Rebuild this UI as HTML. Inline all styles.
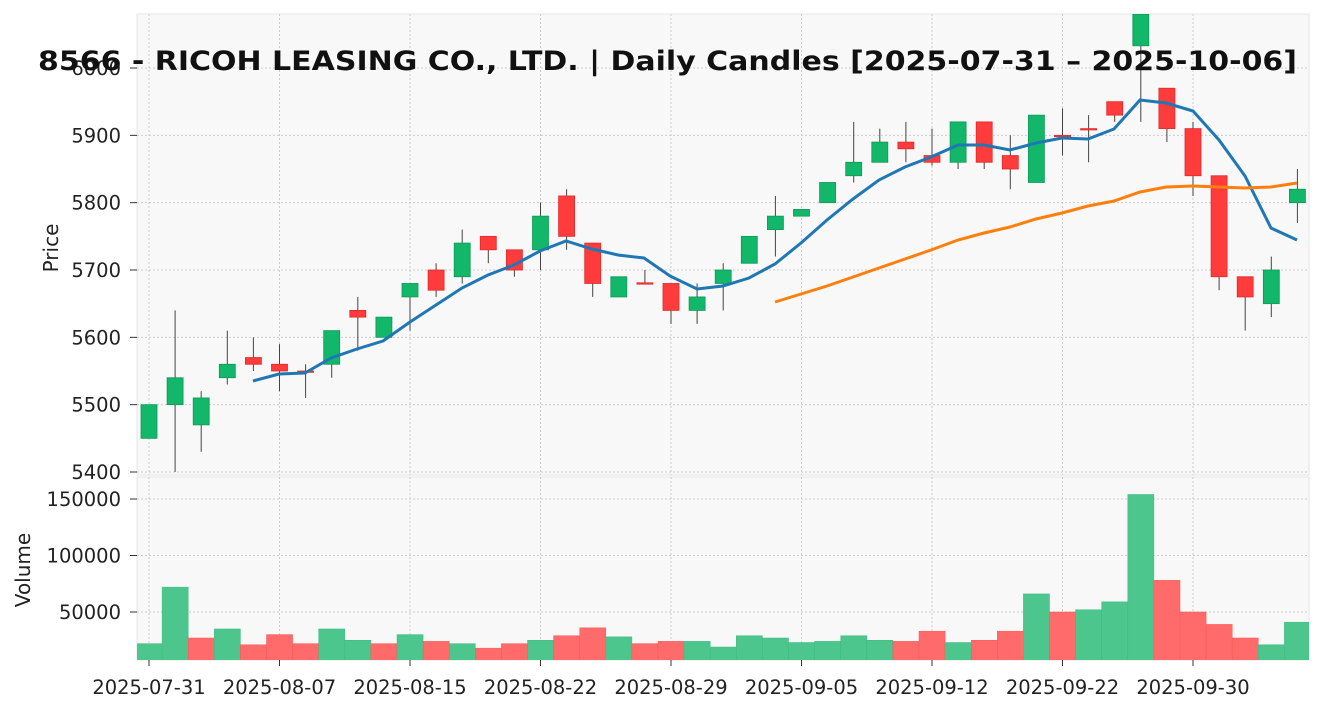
<!DOCTYPE html>
<html><head><meta charset="utf-8"><style>body{margin:0;background:#fff}svg{display:block;font-family:"DejaVu Sans","Liberation Sans",sans-serif}</style></head>
<body>
<svg id="s" width="1324" height="711" xmlns="http://www.w3.org/2000/svg"></svg>
<script>
const s=document.getElementById('s');let h='';
const X=i=>149+26.1*i, Y=p=>472-(p-5400)*0.6733, V=v=>668.5-v/50000*56.5;
h+='<rect x="137" y="14" width="1172" height="461" fill="#f8f8f8" stroke="#e6e6e6"/>';
h+='<rect x="137" y="477" width="1172" height="183" fill="#f8f8f8" stroke="#e6e6e6"/>';
const ticks=[[0,'2025-07-31'],[5,'2025-08-07'],[10,'2025-08-15'],[15,'2025-08-22'],[20,'2025-08-29'],[25,'2025-09-05'],[30,'2025-09-12'],[35,'2025-09-22'],[40,'2025-09-30']];
for(const [i,t] of ticks){const x=X(i);h+=`<line x1="${x}" x2="${x}" y1="14" y2="475" stroke="#ccc" stroke-dasharray="2,2"/><line x1="${x}" x2="${x}" y1="477" y2="660" stroke="#ccc" stroke-dasharray="2,2"/><line x1="${x}" x2="${x}" y1="660" y2="666" stroke="#333"/><text x="${x}" y="694" font-size="19.5" text-anchor="middle" fill="#222">${t}</text>`;}
for(let p=5400;p<=6000;p+=100){const y=Y(p);h+=`<line x1="137" x2="1309" y1="${y}" y2="${y}" stroke="#ccc" stroke-dasharray="2,2"/><line x1="130" x2="137" y1="${y}" y2="${y}" stroke="#333"/><text x="121" y="${y+7}" font-size="19.5" text-anchor="end" fill="#222">${p}</text>`;}
for(const v of [50000,100000,150000]){const y=V(v);h+=`<line x1="137" x2="1309" y1="${y}" y2="${y}" stroke="#ccc" stroke-dasharray="2,2"/><line x1="130" x2="137" y1="${y}" y2="${y}" stroke="#333"/><text x="121" y="${y+7}" font-size="19.5" text-anchor="end" fill="#222">${v}</text>`;}
h+='<text x="58" y="248" font-size="20" text-anchor="middle" transform="rotate(-90 58 248)" fill="#222">Price</text>';
h+='<text x="30" y="570" font-size="20" text-anchor="middle" transform="rotate(-90 30 570)" fill="#222">Volume</text>';
const C=[[5450,5500,5500,5450],[5500,5540,5640,5400],[5470,5510,5520,5430],[5540,5560,5610,5530],[5570,5560,5600,5550],[5560,5550,5590,5520],[5550,5548,5560,5510],[5560,5610,5610,5540],[5640,5630,5660,5580],[5600,5630,5630,5600],[5660,5680,5680,5610],[5700,5670,5710,5660],[5690,5740,5760,5680],[5750,5730,5750,5710],[5730,5700,5730,5690],[5730,5780,5800,5700],[5810,5750,5820,5730],[5740,5680,5740,5660],[5660,5690,5690,5660],[5681,5679,5700,5679],[5680,5640,5680,5620],[5640,5660,5680,5620],[5680,5700,5710,5640],[5710,5750,5750,5710],[5760,5780,5810,5720],[5780,5790,5790,5780],[5800,5830,5830,5800],[5840,5860,5920,5830],[5860,5890,5910,5860],[5890,5880,5920,5860],[5870,5860,5910,5855],[5860,5920,5920,5850],[5920,5860,5920,5850],[5870,5850,5900,5820],[5830,5930,5930,5830],[5900,5898,5940,5870],[5910,5908,5930,5860],[5950,5930,5950,5920],[6033,6080,6100,5920],[5970,5910,5970,5890],[5910,5840,5920,5810],[5840,5690,5840,5670],[5690,5660,5690,5610],[5650,5700,5720,5630],[5800,5820,5850,5770]];
const VO=[22000,72000,27000,35000,21000,30000,22000,35000,25000,22000,30000,24000,22000,18000,22000,25000,29000,36000,28000,22000,24000,24000,19000,29000,27000,23000,24000,29000,25000,24000,33000,23000,25000,33000,66000,50000,52000,59000,154000,78000,50000,39000,27000,21000,41000];
const VC="ggrgrrrggr"+"grgrrgrrgr"+"rggggggggr"+"rgrrgrgggr"+"rrrgg";
h+='<clipPath id="cp"><rect x="137" y="14" width="1172" height="461"/></clipPath><clipPath id="cv"><rect x="137" y="477" width="1172" height="183"/></clipPath>';
h+='<g clip-path="url(#cv)">';
VO.forEach((v,i)=>{const g=VC[i]=='g';h+=`<rect x="${X(i)-13}" y="${V(v)}" width="26.1" height="${668.5-V(v)}" fill="${g?'#4cc68d':'#ff6b6b'}" stroke="${g?'#3dbb80':'#f55'}" stroke-width="0.5"/>`;});
h+='</g><g clip-path="url(#cp)">';
C.forEach(([o,c,hi,lo],i)=>{const g=c>=o,x=X(i),col=g?'#12b76a':'#ff3b3b';h+=`<line x1="${x}" x2="${x}" y1="${Y(hi)}" y2="${Y(lo)}" stroke="#444" stroke-width="1"/>`;const t=Y(Math.max(o,c)),b=Y(Math.min(o,c));h+=`<rect x="${x-8}" y="${t}" width="16" height="${Math.max(b-t,1)}" fill="${col}" stroke="${g?'#0e9a58':'#e02a2a'}" stroke-width="0.8"/>`;});
const B=[[253,381],[279,374],[305,373],[331,358],[357,349],[383,341],[410,322],[436,305],[462,288],[488,275],[514,265],[540,251],[566,241],[592,249],[618,255],[644,258],[670,276],[697,289],[723,286],[749,278],[775,264],[801,243],[827,220],[853,199],[879,180],[905,167],[931,157],[958,145],[984,145],[1010,150],[1036,143],[1062,138],[1088,139],[1114,129],[1140,100],[1166,103],[1193,111],[1219,140],[1245,176],[1271,228],[1297,240]];
const O=[[775,302],[801,294],[827,286],[853,277],[879,268],[905,259],[931,250],[958,240],[984,233],[1010,227],[1036,219],[1062,213],[1088,206],[1114,201],[1140,192],[1166,187],[1193,186],[1219,187],[1245,188],[1271,187],[1297,183]];
h+=`<polyline points="${B.join(' ')}" fill="none" stroke="#1f77b4" stroke-width="3"/>`;
h+=`<polyline points="${O.join(' ')}" fill="none" stroke="#ff7f0e" stroke-width="3"/>`;
h+='</g>';
h+='<text x="38" y="70" font-size="27" font-weight="bold" textLength="1259" lengthAdjust="spacingAndGlyphs" fill="#111">8566 - RICOH LEASING CO., LTD. | Daily Candles [2025-07-31 – 2025-10-06]</text>';
s.innerHTML=h;
</script>
</body></html>
